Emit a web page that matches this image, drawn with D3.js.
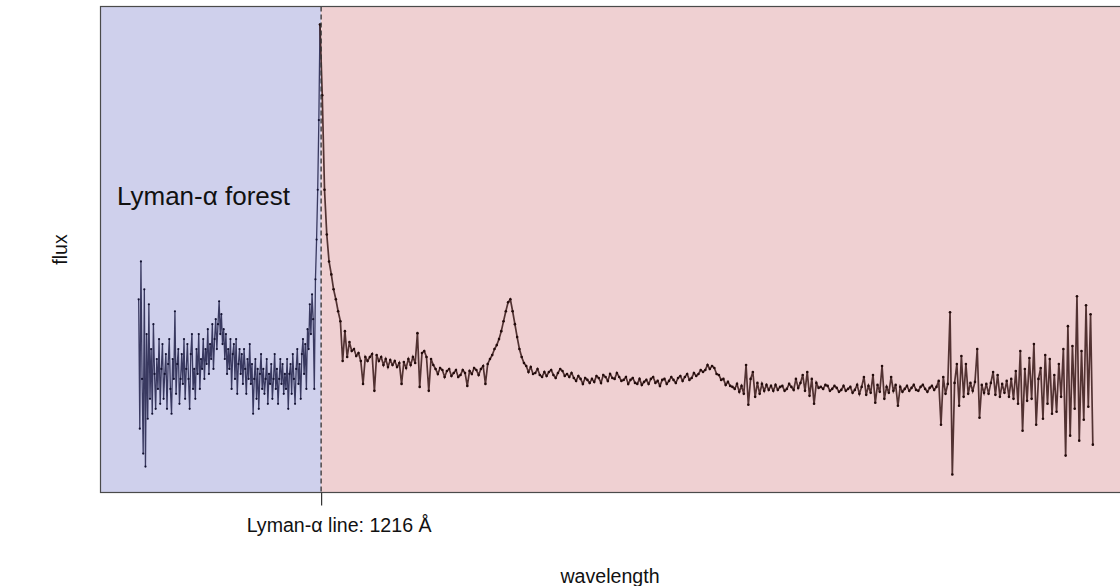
<!DOCTYPE html>
<html>
<head>
<meta charset="utf-8">
<script src="https://cdn.jsdelivr.net/npm/d3@7"></script>
<style>
  body { margin: 0; background: #fff; }
  svg { display: block; font-family: "Liberation Sans", Arial, Helvetica, sans-serif; }
</style>
</head>
<body>
<svg id="chart" width="1120" height="586"></svg>
<script>
// spectra sampled on regular wavelength grids (Angstrom)
const forestStart = 894;
const forestStep = 2;
const redStart = 1214;
const redStep = 4;
const lyaLine = 1216;
const lyaLabel = "Lyman-\u03b1 line: 1216 \u00c5";
const forestLabel = "Lyman-\u03b1 forest";

// flux blueward of Lyman-alpha (894 - 1212 A)
const forestFlux = [
  20.0, 7.0, 23.8, 12.0, 4.5, 21.0, 3.2, 16.5, 8.0, 19.5,
  10.0, 15.0, 8.5, 17.5, 12.5, 9.0, 14.0, 11.0, 16.0, 9.5,
  13.0, 15.5, 10.0, 12.5, 14.5, 9.0, 13.5, 16.0, 11.0, 8.5,
  14.0, 12.0, 18.8, 10.5, 13.5, 15.0, 9.5, 12.0, 14.5, 11.5,
  16.0, 10.0, 13.0, 15.5, 12.0, 9.0, 14.5, 16.5, 11.0, 13.0,
  10.0, 15.0, 12.5, 16.5, 11.0, 14.0, 13.0, 16.0, 12.0, 15.0,
  13.5, 17.0, 12.5, 15.5, 14.0, 17.5, 13.0, 16.0, 18.0, 15.0,
  17.5, 19.8, 16.5, 18.5, 15.5, 17.0, 14.0, 16.5, 12.5, 15.0,
  13.0, 16.0, 11.0, 14.5, 15.5, 12.0, 16.0, 10.5, 13.5, 15.0,
  12.5, 14.5, 11.5, 15.0, 13.0, 10.5, 14.0, 12.0, 15.5, 11.5,
  13.5, 8.5, 12.0, 14.0, 10.0, 13.0, 9.0, 12.5, 14.5, 11.0,
  13.0, 10.5, 12.0, 14.0, 9.5, 12.5, 11.5, 13.5, 10.0, 12.0,
  14.5, 11.0, 13.0, 9.5, 12.0, 14.0, 11.5, 13.5, 10.5, 12.5,
  11.0, 14.0, 9.0, 12.5, 13.5, 10.5, 14.5, 12.0, 9.5, 13.0,
  15.0, 11.5, 13.5, 10.0, 14.5, 16.0, 12.5, 15.5, 11.0, 17.0,
  15.0, 19.5, 16.5, 20.5, 18.0, 11.0, 22.0, 26.0, 31.0, 38.0
];

// flux redward, starting at the Lyman-alpha peak (1214 - 2578 A)
const redFlux = [
  47.6,
  40.5, 31.0, 26.5, 23.8, 22.5, 21.0, 20.0, 18.8, 17.8, 13.8,
  16.8, 14.2, 15.7, 14.8, 15.0, 14.3, 14.6, 13.8, 11.5, 14.2,
  13.8, 14.2, 14.5, 10.8, 14.4, 13.8, 14.2, 13.4, 14.0, 13.2,
  13.9, 13.4, 13.8, 13.2, 13.6, 11.5, 13.7, 13.1, 14.0, 13.4,
  14.2, 13.6, 16.6, 11.2, 14.6, 14.8, 14.2, 10.8, 14.0, 13.4,
  13.0, 12.5, 13.1, 12.9, 12.2, 12.8, 13.0, 12.3, 12.6, 12.9,
  12.2, 12.4, 12.9, 12.6, 11.3, 12.8, 12.5, 13.1, 12.9, 12.4,
  13.0, 13.3, 11.5, 13.5, 14.0, 14.4, 15.0, 15.4, 16.0, 16.8,
  17.8, 18.8, 19.7, 20.0, 18.8, 17.5, 16.2, 15.0, 14.2, 13.6,
  13.3, 12.7, 13.2, 12.5, 12.6, 13.0, 12.4, 12.2, 12.7, 12.3,
  12.7, 12.9, 12.4, 12.1, 12.6, 13.0, 12.8, 12.3, 12.5, 12.2,
  12.6, 12.1, 11.8, 12.3, 12.0, 11.5, 12.1, 11.9, 11.6, 12.0,
  11.7, 12.3, 12.1, 11.6, 12.4, 12.2, 11.8, 12.5, 12.1, 12.0,
  12.6, 12.2, 11.8, 11.9, 12.2, 11.5, 11.9, 12.1, 11.6, 11.5,
  12.0, 11.4, 11.7, 11.9, 11.5, 12.0, 12.2, 11.6, 11.8, 11.3,
  11.9, 12.0, 11.5, 11.8, 12.2, 11.9, 11.6, 12.1, 12.3, 11.8,
  12.2, 12.5, 11.9, 12.1, 12.6, 12.3, 12.5, 12.9, 12.7, 12.9,
  13.4, 13.0, 13.3, 13.1, 12.5, 12.4, 11.9, 12.0, 11.4, 11.7,
  11.3, 11.2, 11.0, 11.5, 10.7, 11.3, 10.5, 13.4, 9.4, 12.0,
  12.7, 10.2, 11.6, 10.5, 11.5, 10.8, 11.4, 10.9, 11.3, 10.8,
  11.4, 10.9, 11.2, 11.3, 10.8, 11.0, 11.5, 11.2, 10.9, 12.0,
  11.1, 11.6, 12.4, 10.8, 12.7, 10.3, 12.0, 9.5, 11.6, 11.1,
  11.2, 11.0, 11.4, 11.3, 10.8, 11.0, 11.3, 11.1, 10.7, 10.9,
  11.3, 10.8, 11.0, 11.2, 10.6, 10.9, 11.4, 10.5, 11.2, 12.2,
  10.4, 11.3, 10.6, 12.4, 9.6, 11.4, 10.7, 13.3, 10.0, 11.2,
  10.6, 12.2, 10.8, 11.4, 9.3, 11.2, 10.7, 11.0, 11.3, 10.8,
  11.1, 11.4, 10.9, 10.8, 11.2, 11.4, 11.0, 10.7, 11.1, 11.3,
  10.9, 11.2, 11.8, 7.4, 12.2, 10.5, 11.5, 18.7, 2.4, 11.6,
  13.5, 9.3, 14.3, 10.2, 13.5, 10.5, 11.6, 10.8, 11.7, 15.0,
  8.1, 11.4, 10.6, 11.5, 10.5, 11.6, 12.7, 10.4, 12.4, 10.2,
  11.5, 10.6, 11.8, 10.2, 12.0, 10.0, 12.8, 9.5, 14.8, 6.8,
  13.0, 9.8, 14.1, 10.0, 15.5, 7.4, 12.0, 13.1, 8.0, 14.4,
  9.5, 14.0, 8.5, 12.4, 8.7, 13.5, 10.2, 15.0, 4.3, 17.3,
  6.3, 15.3, 9.0, 20.3, 5.8, 14.8, 7.9, 19.4, 9.2, 18.5, 5.4
];

const drawSpectrum = (svg_name) => {
  let chart = d3.select(svg_name);
  let margin = {left: 100.5, right: -11, top: 6.5, bottom: 93.5};
  let width = +chart.attr("width");
  let height = +chart.attr("height");

  let forest = forestFlux.map((f, i) => ({wave: forestStart + i * forestStep, flux: f}));
  let red = redFlux.map((f, i) => ({wave: redStart + i * redStep, flux: f}));
  let all = forest.concat(red);

  // R-style 4% padding round the data range
  let pad = (ext) => { let r = ext[1] - ext[0]; return [ext[0] - 0.04 * r, ext[1] + 0.04 * r]; };
  let x = d3.scaleLinear()
            .domain(pad(d3.extent(all, (d) => d.wave)))
            .range([margin.left, width - margin.right]);
  let y = d3.scaleLinear()
            .domain(pad(d3.extent(all, (d) => d.flux)))
            .range([height - margin.bottom, margin.top]);

  let x0 = x.range()[0], x1 = x.range()[1];
  let yTop = y.range()[1], yBot = y.range()[0];

  // shaded regions
  chart.append("rect")
    .attr("x", x0).attr("y", yTop)
    .attr("width", x(lyaLine) - x0).attr("height", yBot - yTop)
    .attr("fill", "#cfd0ec");
  chart.append("rect")
    .attr("x", x(lyaLine)).attr("y", yTop)
    .attr("width", x1 - x(lyaLine)).attr("height", yBot - yTop)
    .attr("fill", "#efd0d2");

  let line = d3.line().x((d) => x(d.wave)).y((d) => y(d.flux));

  addTrace(chart, forest.concat([red[0]]), line, x, y, "#1f1e48", "#121130", 1.3, 1.1);
  addTrace(chart, red, line, x, y, "#361616", "#220b0b", 1.7, 1.3);

  // Lyman-alpha marker
  chart.append("line")
    .attr("x1", x(lyaLine)).attr("x2", x(lyaLine))
    .attr("y1", yTop).attr("y2", yBot)
    .attr("stroke", "#333").attr("stroke-width", 1.3)
    .attr("stroke-dasharray", "5,3");

  // box
  chart.append("rect")
    .attr("x", x0).attr("y", yTop)
    .attr("width", x1 - x0).attr("height", yBot - yTop)
    .attr("fill", "none").attr("stroke", "#4a4a4a").attr("stroke-width", 1.2);

  // single tick on the x axis
  let x_axis = d3.axisBottom(x).tickValues([lyaLine]).tickSize(13).tickFormat(() => "");
  let ax = chart.append("g")
    .attr("transform", `translate(0,${yBot})`)
    .call(x_axis);
  ax.select(".domain").remove();
  ax.selectAll(".tick line").attr("stroke", "#333").attr("stroke-width", 1.2);

  chart.append("text")
    .attr("x", x(lyaLine) + 18).attr("y", 532)
    .attr("text-anchor", "middle")
    .style("font-size", "19.6px").style("fill", "#111")
    .text(lyaLabel);

  chart.append("text")
    .attr("x", 117).attr("y", 205)
    .style("font-size", "26px").style("fill", "#111")
    .text(forestLabel);

  chart.append("text")
    .attr("x", 610).attr("y", 583)
    .attr("text-anchor", "middle")
    .style("font-size", "19.6px").style("fill", "#111")
    .text("wavelength");

  chart.append("text")
    .attr("transform", `translate(67,${(yTop + yBot) / 2}) rotate(-90)`)
    .attr("text-anchor", "middle")
    .style("font-size", "19.6px").style("fill", "#111")
    .text("flux");
}

const addTrace = (chart, data, line, x, y, lineColor, dotColor, lineWidth, dotSize) => {
  let g = chart.append("g");
  g.append("path")
    .datum(data)
    .attr("d", line)
    .attr("fill", "none")
    .attr("stroke", lineColor)
    .attr("stroke-opacity", 0.85)
    .attr("stroke-width", lineWidth);
  g.selectAll("circle")
    .data(data)
    .enter()
    .append("circle")
      .attr("cx", (d) => x(d.wave))
      .attr("cy", (d) => y(d.flux))
      .attr("r", dotSize)
      .attr("fill", dotColor);
}

drawSpectrum("#chart");
</script>
</body>
</html>
